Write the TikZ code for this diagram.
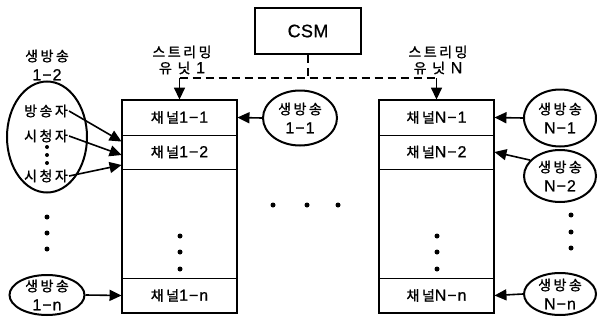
\documentclass[tikz,border=0pt]{standalone}
\usepackage{fontspec}
\setmainfont{Noto Sans CJK KR}[LetterSpace=18, UprightFeatures={FakeBold=1.2}]
\newfontfamily\latfont{Liberation Sans}[LetterSpace=6, UprightFeatures={FakeBold=0.8}]
\newcommand\latn[1]{{\latfont\fontsize{16}{19}\selectfont #1}}
\usetikzlibrary{arrows.meta,shapes.geometric,calc}
\begin{document}
\begin{tikzpicture}[x=1pt,y=-1pt,
  every node/.style={font=\fontsize{14}{19}\selectfont},
  outer/.style={draw, line width=2.2pt, minimum width=115pt, minimum height=213pt, inner sep=0pt},
  cell/.style={draw, line width=0.9pt, minimum width=115pt, inner sep=0pt},
  oval/.style={draw, ellipse, line width=2pt, inner sep=0pt},
  txt/.style={align=center, inner sep=1pt},
  arr/.style={-{Triangle[length=12pt,width=11pt]}, line width=1.6pt},
  ctrlline/.style={dash pattern=on 8pt off 5pt, line width=1.6pt},
  bigdot/.style={circle, fill, inner sep=0pt, minimum size=5pt},
  smalldot/.style={circle, fill, inner sep=0pt, minimum size=4pt}]
\useasboundingbox (0,0) rectangle (599,324);

% CSM
\node[draw, line width=2pt, minimum width=106pt, minimum height=46pt] (csm) at (308,31) {{\latfont\addfontfeature{LetterSpace=2}\fontsize{18}{20}\selectfont CSM}};
\coordinate (j) at (308,78);
\coordinate (jl) at (179.5,78);
\coordinate (jr) at (436.5,78);

% streaming unit 1
\node[cell, minimum height=35pt] (c11) at (179.5,117.5) {채널\latn{1−1}};
\node[cell, minimum height=34pt] (c12) at (179.5,152) {채널\latn{1−2}};
\node[cell, minimum height=35pt] (c1n) at (179.5,295.5) {채널\latn{1−n}};
\node[outer] (u1) at (179.5,206.5) {};
\node[txt, font=\fontsize{14}{16}\selectfont] (lu1) at (182,60) {스트리밍\\유 닛 \latn{1}};

% streaming unit N
\node[cell, minimum height=35pt] (cN1) at (436.5,117.5) {채널\latn{N−1}};
\node[cell, minimum height=34pt] (cN2) at (436.5,152) {채널\latn{N−2}};
\node[cell, minimum height=35pt] (cNn) at (436.5,295.5) {채널\latn{N−n}};
\node[outer] (uN) at (436.5,206.5) {};
\node[txt, font=\fontsize{14}{16}\selectfont] (luN) at (438,60) {스트리밍\\유 닛 \latn{N}};

% dashed control lines
\draw[ctrlline] (csm.south) -- (j);
\draw[ctrlline] (jl) -- (jr);
\draw[arr] (jl) -- (c11.north);
\draw[arr] (jr) -- (cN1.north);

% dots inside units
\foreach \y [count=\i] in {236,252,269} {
  \node[bigdot] (d1\i) at (180,\y) {};
  \node[bigdot] (dN\i) at (437,\y) {};
}
% middle dots
\node[bigdot] (m1) at (273,205) {};
\node[bigdot] (m2) at (307,205) {};
\node[bigdot] (m3) at (338,205) {};

% left group 1-2
\node[txt] (l12) at (47,65) {생방송\\\latn{1−2}};
\node[oval, minimum width=80pt, minimum height=111pt] (e12) at (47,137) {};
\node[txt] (p1) at (46,111) {방송자};
\node[txt] (p2) at (46,136) {시청자};
\node[txt] (p3) at (46,176) {시청자};
\node[smalldot] (q1) at (47,147) {};
\node[smalldot] (q2) at (47,155) {};
\node[smalldot] (q3) at (47,163) {};
\draw[arr] (p1.east) -- ([yshift=-7pt]c12.north west);
\draw[arr] (p2.east) -- ([yshift=-3pt]c12.west);
\draw[arr] (p3.east) -- ([yshift=-13pt]c12.west);

% left dots
\node[bigdot] (ld1) at (47,217) {};
\node[bigdot] (ld2) at (47,233) {};
\node[bigdot] (ld3) at (47,249) {};

% 1-n
\node[oval, minimum width=75pt, minimum height=40pt] (e1n) at (47,295) {};
\node[txt] at (e1n) {생방송\\\latn{1−n}};
\draw[arr] (e1n.east) -- (c1n.west);

% 1-1
\node[oval, minimum width=74pt, minimum height=55pt] (e11) at (300,118) {};
\node[txt] at (e11) {생방송\\\latn{1−1}};
\draw[arr] (e11.west) -- (c11.east);

% right side
\node[oval, minimum width=72pt, minimum height=57pt] (eN1) at (560,118) {};
\node[txt] at (eN1) {생방송\\\latn{N−1}};
\draw[arr] (eN1.west) -- (cN1.east);

\node[oval, minimum width=72pt, minimum height=52pt] (eN2) at (560,176) {};
\node[txt] at (eN2) {생방송\\\latn{N−2}};
\draw[arr] (eN2.152) -- (cN2.east);

\node[bigdot] (rd1) at (571,215) {};
\node[bigdot] (rd2) at (571,232) {};
\node[bigdot] (rd3) at (571,248) {};

\node[oval, minimum width=72pt, minimum height=42pt] (eNn) at (560,294) {};
\node[txt] at (eNn) {생방송\\\latn{N−n}};
\draw[arr] (eNn.west) -- (cNn.east);
\end{tikzpicture}
\end{document}
